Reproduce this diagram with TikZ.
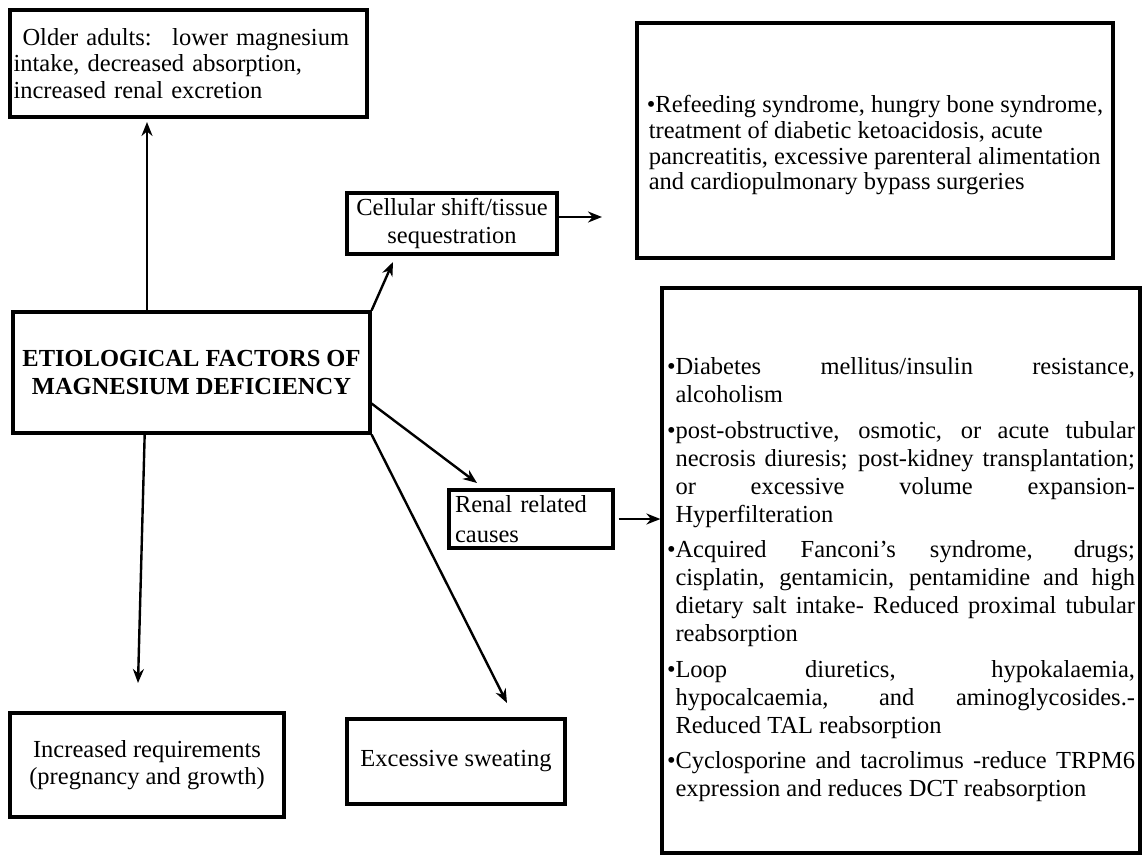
\documentclass[tikz,border=0pt]{standalone}
\usepackage{fontspec}
\setmainfont{Liberation Serif}
\usepackage{tikz}
\usetikzlibrary{positioning,arrows.meta,calc}

\tikzset{
  box/.style={draw, line width=3.2pt, inner sep=0pt, font=\fontsize{24.5}{28}\selectfont},
}
\newcommand{\bitem}{\par\hangindent=8.5pt\hangafter=1\noindent\makebox[8.5pt][l]{•}}

\begin{document}
\begin{tikzpicture}[x=1pt,y=-1pt,->,>={Stealth[length=14pt,width=11pt]},line width=2.4pt]
\useasboundingbox (0,0) rectangle (1143,855);

\node[box,minimum width=357pt,minimum height=121pt,font=\fontsize{24.5}{28}\selectfont\bfseries,align=center] (main) at (191.5,372.5) {ETIOLOGICAL FACTORS OF\\MAGNESIUM DEFICIENCY};
\node[box,minimum width=357pt,minimum height=107pt,text width=350pt,align=left,font=\fontsize{24.5}{26.5}\selectfont] (older) at (188.5,63.5) {\hspace*{9pt}Older adults:~ lower magnesium\\intake, decreased absorption,\\increased renal excretion};
\node[box,minimum width=210pt,minimum height=61pt,align=center] (cell) at (452,223.5) {Cellular shift/tissue\\sequestration};
\node[box,minimum width=476pt,minimum height=235pt,align=left,font=\fontsize{24.5}{25.7}\selectfont] (shift) at (875,140.5) {\rule{0pt}{27pt}•Refeeding syndrome, hungry bone syndrome,\\\hspace*{2pt}treatment of diabetic ketoacidosis, acute\\\hspace*{2pt}pancreatitis, excessive parenteral alimentation\\\hspace*{2pt}and cardiopulmonary bypass surgeries};
\node[box,minimum width=164pt,minimum height=58pt,text width=152pt,align=left,font=\fontsize{24.5}{30}\selectfont] (renal) at (531,519) {\makebox[137pt][s]{Renal related}\\causes};
\node[box,minimum width=478pt,minimum height=565pt,text width=468pt,align=justify] (big) at (901,570.5) {\parskip=7.5pt\tolerance=10000\hyphenpenalty=10000
\bitem Diabetes mellitus/insulin resistance,\linebreak alcoholism
\bitem post-obstructive, osmotic, or acute tubular\linebreak necrosis diuresis; post-kidney transplantation;\linebreak or excessive volume expansion-\linebreak Hyperfilteration
\bitem Acquired Fanconi’s syndrome, drugs;\linebreak cisplatin, gentamicin, pentamidine and high\linebreak dietary salt intake- Reduced proximal tubular\linebreak reabsorption
\bitem Loop diuretics, hypokalaemia,\linebreak hypocalcaemia, and aminoglycosides.-\linebreak Reduced TAL reabsorption
\bitem Cyclosporine and tacrolimus -reduce TRPM6\linebreak expression and reduces DCT reabsorption\par};
\node[box,minimum width=274pt,minimum height=104pt,align=center,font=\fontsize{24.5}{27}\selectfont] (req) at (147,765) {Increased requirements\\(pregnancy and growth)};
\node[box,minimum width=218pt,minimum height=85pt] (sweat) at (456,761.5) {Excessive sweating};

\coordinate (olderTip) at (147,122);
\coordinate (cellTip) at (393,262);
\coordinate (shiftTip) at (602,217);
\coordinate (renalTip) at (477,483);
\coordinate (sweatTip) at (507,703);
\coordinate (reqTip) at (138,683);

\path (main.north -| olderTip) edge (olderTip);
\path (main.north east) edge (cellTip);
\path (cell.east |- shiftTip) edge (shiftTip);
\path ($(main.south east)!0.25!(main.north east)$) edge (renalTip);
\path (main.south east) edge (sweatTip);
\path ($(main.south west)!0.37!(main.south east)$) edge (reqTip);
\path (renal.east) edge[shorten <=4pt] (renal.east -| big.west);
\end{tikzpicture}
\end{document}
